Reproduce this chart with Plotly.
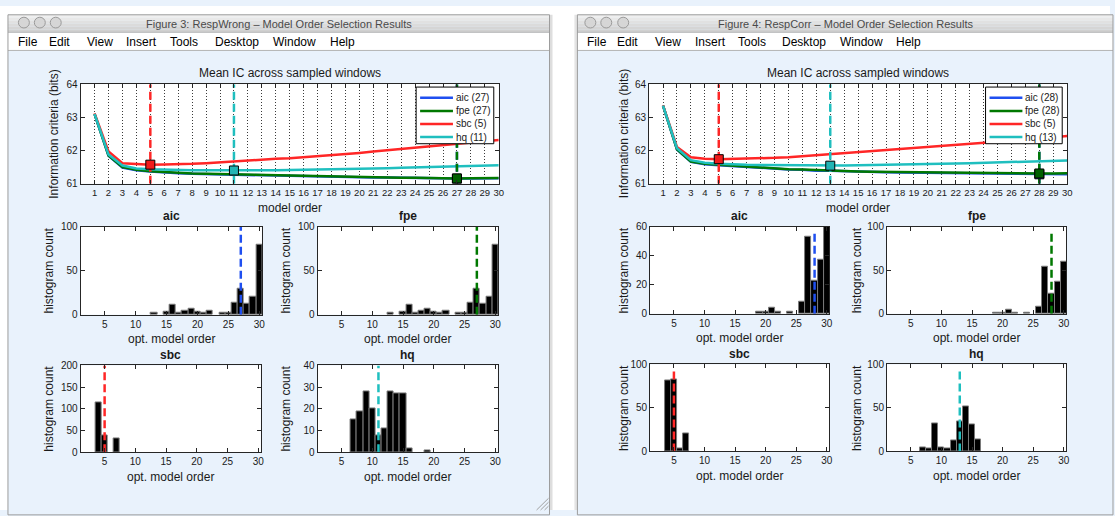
import plotly.graph_objects as go

W, H = 1115, 516
FONT = "Liberation Sans, Arial, Helvetica, sans-serif"
TXT = "#1a1a1a"
AX = "#262626"
BG = "#e9f2fc"

orders = list(range(1, 31))
criteria = ["aic", "fpe", "sbc", "hq"]
line_colors = {"aic": "#1f4ff0", "fpe": "#007800", "sbc": "#ff2626", "hq": "#1fbfbf"}
marker_fills = {"aic": "#1f4ff0", "fpe": "#006000", "sbc": "#f01c1c", "hq": "#22b4b4"}

# Mean information criterion (bits) per model order -- RespWrong
wrong_aic = [63.10, 61.84, 61.49, 61.41, 61.37, 61.335, 61.315, 61.30, 61.29, 61.28,
             61.275, 61.265, 61.255, 61.245, 61.235, 61.225, 61.215, 61.205, 61.198, 61.195,
             61.187, 61.185, 61.177, 61.175, 61.168, 61.165, 61.155, 61.16, 61.163, 61.166]
wrong_fpe = [63.10, 61.85, 61.50, 61.42, 61.38, 61.35, 61.33, 61.31, 61.30, 61.29,
             61.28, 61.27, 61.26, 61.25, 61.24, 61.23, 61.22, 61.21, 61.20, 61.20,
             61.19, 61.19, 61.18, 61.18, 61.17, 61.17, 61.16, 61.165, 61.168, 61.17]
wrong_sbc = [63.12, 61.97, 61.62, 61.59, 61.575, 61.58, 61.585, 61.60, 61.62, 61.65,
             61.68, 61.70, 61.72, 61.75, 61.77, 61.80, 61.82, 61.86, 61.89, 61.93,
             61.97, 62.01, 62.05, 62.09, 62.13, 62.16, 62.20, 62.24, 62.28, 62.32]
wrong_hq = [63.10, 61.88, 61.55, 61.46, 61.44, 61.425, 61.415, 61.41, 61.405, 61.402,
            61.40, 61.403, 61.407, 61.41, 61.415, 61.42, 61.43, 61.44, 61.445, 61.45,
            61.46, 61.47, 61.48, 61.49, 61.50, 61.51, 61.52, 61.53, 61.545, 61.56]

# Mean information criterion (bits) per model order -- RespCorr
corr_aic = [63.35, 62.03, 61.66, 61.59, 61.56, 61.53, 61.50, 61.48, 61.45, 61.43,
            61.42, 61.39, 61.39, 61.375, 61.365, 61.355, 61.35, 61.34, 61.335, 61.335,
            61.33, 61.32, 61.32, 61.315, 61.31, 61.30, 61.295, 61.285, 61.288, 61.29]
corr_fpe = [63.35, 62.04, 61.67, 61.60, 61.57, 61.54, 61.51, 61.49, 61.46, 61.44,
            61.43, 61.41, 61.40, 61.38, 61.37, 61.36, 61.355, 61.345, 61.34, 61.34,
            61.335, 61.335, 61.33, 61.33, 61.325, 61.32, 61.315, 61.31, 61.312, 61.315]
corr_sbc = [63.36, 62.11, 61.80, 61.75, 61.74, 61.745, 61.75, 61.76, 61.78, 61.80,
            61.83, 61.86, 61.89, 61.92, 61.95, 61.98, 62.01, 62.04, 62.07, 62.10,
            62.13, 62.16, 62.19, 62.22, 62.25, 62.29, 62.32, 62.36, 62.40, 62.44]
corr_hq = [63.35, 62.07, 61.71, 61.63, 61.60, 61.58, 61.57, 61.565, 61.56, 61.555,
           61.552, 61.548, 61.545, 61.55, 61.555, 61.56, 61.57, 61.575, 61.58, 61.59,
           61.60, 61.61, 61.62, 61.63, 61.64, 61.65, 61.66, 61.67, 61.685, 61.70]

# Histogram of the optimal order picked in each sampled window (orders 1..30)
wrong_hist_aic = [0] * 12 + [2, 0, 3, 11, 2, 5, 7, 3, 2, 4, 0, 2, 2, 14, 29, 12, 20, 80]
wrong_hist_fpe = [0] * 12 + [2, 0, 3, 11, 2, 5, 7, 3, 2, 4, 0, 2, 2, 14, 29, 12, 20, 80]
wrong_hist_sbc = [0, 0, 0, 115, 40, 0, 31] + [0] * 23
wrong_hist_hq = [0] * 6 + [15, 19, 28, 20, 8, 11, 28, 27, 27, 2, 0, 0, 1] + [0] * 11

corr_hist_aic = [0] * 18 + [1, 1, 4, 1, 0, 1, 0, 8, 53, 23, 37, 60]
corr_hist_fpe = [0] * 18 + [1, 1, 4, 1, 0, 1, 0, 8, 54, 23, 37, 60]
corr_hist_sbc = [0, 0, 0, 82, 83, 3, 21] + [0] * 23
corr_hist_hq = [0] * 6 + [4, 3, 32, 5, 3, 13, 35, 52, 31, 14] + [0] * 14

ic_yticks = [61, 62, 63, 64]
hist_xticks = [5, 10, 15, 20, 25, 30]
wrong_hist_yticks = {"aic": [0, 50, 100], "fpe": [0, 50, 100],
                     "sbc": [0, 50, 100, 150, 200], "hq": [0, 10, 20, 30, 40]}
corr_hist_yticks = {"aic": [0, 20, 40, 60], "fpe": [0, 50, 100],
                    "sbc": [0, 50, 100], "hq": [0, 50, 100]}
menu_items = ["File", "Edit", "View", "Insert", "Tools", "Desktop", "Window", "Help"]

windows = [
    dict(title="Figure 3: RespWrong \u2013 Model Order Selection Results",
         left=8, right=552,
         ic={"aic": wrong_aic, "fpe": wrong_fpe, "sbc": wrong_sbc, "hq": wrong_hq},
         hist={"aic": wrong_hist_aic, "fpe": wrong_hist_fpe, "sbc": wrong_hist_sbc, "hq": wrong_hist_hq},
         yticks=wrong_hist_yticks, vline_frac=1.0,
         top=(81, 501, 80, 182),
         panels={"aic": (81, 263, 226, 316), "fpe": (319, 500, 226, 316),
                 "sbc": (81, 262, 368, 457), "hq": (319, 500, 368, 457)},
         ylab_top=54, ylab_hist=(49, 287), legend=(418, 83, 496, 141),
         lights=(24, 40, 56), menu_x=[16.5, 47, 85, 125, 169, 214, 272, 329]),
    dict(title="Figure 4: RespCorr \u2013 Model Order Selection Results",
         left=580, right=1118,
         ic={"aic": corr_aic, "fpe": corr_fpe, "sbc": corr_sbc, "hq": corr_hq},
         hist={"aic": corr_hist_aic, "fpe": corr_hist_fpe, "sbc": corr_hist_sbc, "hq": corr_hist_hq},
         yticks=corr_hist_yticks, vline_frac=0.95,
         top=(652, 1072, 80, 182),
         panels={"aic": (653, 833, 226, 315), "fpe": (891, 1071, 226, 315),
                 "sbc": (653, 833, 367, 456), "hq": (891, 1071, 367, 456)},
         ylab_top=627, ylab_hist=(627, 861), legend=(990, 83, 1067, 141),
         lights=(593, 609, 626), menu_x=[587.5, 618, 656, 696, 739, 784, 842, 898]),
]


def fx(v):
    return v / W


def fy(v):
    return 1 - v / H


def ann(text, x, y, size=12, bold=False, angle=0, xanchor="center", color=TXT):
    return dict(text=f"<b>{text}</b>" if bold else text, x=fx(x), y=fy(y),
                xref="paper", yref="paper", showarrow=False, textangle=angle,
                font=dict(family=FONT, size=size, color=color),
                xanchor=xanchor, yanchor="middle")


def rect(x0, y0, x1, y1, fill, line=None, layer="below", width=1):
    return dict(type="rect", xref="paper", yref="paper", x0=fx(x0), x1=fx(x1),
                y0=fy(y1), y1=fy(y0), fillcolor=fill, layer=layer,
                line=dict(color=line or "rgba(0,0,0,0)", width=width if line else 0))


def seg(x0, y0, x1, y1, color, width=1, layer="below"):
    return dict(type="line", xref="paper", yref="paper", x0=fx(x0), x1=fx(x1),
                y0=fy(y0), y1=fy(y1), line=dict(color=color, width=width), layer=layer)


def axis(domain, rng, tickvals, anchor, size=10, **kw):
    a = dict(domain=domain, range=rng, tickmode="array", tickvals=tickvals,
             showline=True, linecolor=AX, linewidth=1, mirror="ticks",
             ticks="inside", ticklen=4, tickwidth=1, tickcolor=AX,
             tickfont=dict(family=FONT, size=size, color=TXT),
             showgrid=False, zeroline=False, fixedrange=True, anchor=anchor)
    a.update(kw)
    return a


fig = go.Figure()
layout_axes = {}
shapes = []
annotations = []
k = 0


def new_axes():
    global k
    k += 1
    s = "" if k == 1 else str(k)
    return f"x{s}", f"y{s}", f"xaxis{s}", f"yaxis{s}"


# Window chrome: white surroundings, title bars, menu bars
shapes.append(rect(0, 0, W, 9, "white"))
shapes.append(rect(0, 0, 8, H, "white"))
shapes.append(rect(552, 0, 580, H, "white"))
shapes.append(rect(552, 9, 555, H, "#dedede"))
shapes.append(rect(577, 9, 580, H, "#e4e4e4"))
grays = ["#efefef", "#e8e8e8", "#e1e1e1", "#dbdbdb", "#d5d5d5", "#d0d0d0"]

for win in windows:
    L, R = win["left"], win["right"]
    for i, g in enumerate(grays):
        shapes.append(rect(L, 9 + 3 * i, R, 12 + 3 * i, g))
    shapes.append(seg(L, 27, R, 27, "#a6a6a6"))
    shapes.append(rect(L, 27.5, R, 45, "white"))
    shapes.append(seg(L, 45.5, R, 45.5, "#b4b4b4"))
    shapes.append(rect(L, 9, R, H + 5, "rgba(0,0,0,0)", line="#9c9c9c"))
    for cx in win["lights"]:
        shapes.append(dict(type="circle", xref="paper", yref="paper",
                           x0=fx(cx - 5.5), x1=fx(cx + 5.5), y0=fy(22.5), y1=fy(11.5),
                           fillcolor="#d6d6d6", line=dict(color="#9a9a9a", width=1), layer="below"))
    annotations.append(ann(win["title"], (L + R) / 2, 18, size=11, color="#4a4a4a"))
    for name, mx in zip(menu_items, win["menu_x"]):
        annotations.append(ann(name, mx, 36.5, size=12, xanchor="left", color="#000000"))

    # ---- Mean IC panel ----
    l, r, t, b = win["top"]
    xr, yr, xk, yk = new_axes()
    layout_axes[xk] = axis([fx(l), fx(r)], [0, 30], orders, yr, size=9.5,
                           showgrid=True, gridcolor="#3a3a3a", gridwidth=1, griddash="1px,2px")
    layout_axes[yk] = axis([fy(b), fy(t)], [ic_yticks[0], ic_yticks[-1]], ic_yticks, xr)

    best = {}
    for c in criteria:
        vals = win["ic"][c]
        best[c] = orders[vals.index(min(vals))]
        fig.add_trace(go.Scatter(x=orders, y=vals, mode="lines", xaxis=xr, yaxis=yr,
                                 line=dict(color=line_colors[c], width=2.5), showlegend=False,
                                 hoverinfo="skip"))
    for c in criteria:
        fig.add_trace(go.Scatter(x=[best[c], best[c]], y=[ic_yticks[0], ic_yticks[-1]],
                                 mode="lines", xaxis=xr, yaxis=yr, showlegend=False,
                                 line=dict(color=line_colors[c], width=2.5, dash="8px,4px"),
                                 hoverinfo="skip"))
    for c in criteria:
        fig.add_trace(go.Scatter(x=[best[c]], y=[win["ic"][c][best[c] - 1]], mode="markers",
                                 xaxis=xr, yaxis=yr, showlegend=False, cliponaxis=False,
                                 marker=dict(symbol="square", size=9, color=marker_fills[c],
                                             line=dict(color="#000000", width=1)),
                                 hoverinfo="skip"))
    annotations.append(ann("Mean IC across sampled windows", (l + r) / 2, t - 11))
    annotations.append(ann("model order", (l + r) / 2, b + 25))
    annotations.append(ann("Information criteria (bits)", win["ylab_top"], (t + b) / 2, angle=-90))

    # legend box
    lx0, ly0, lx1, ly1 = win["legend"]
    shapes.append(rect(lx0, ly0, lx1, ly1, "white", line="#000000", layer="above"))
    for j, c in enumerate(criteria):
        yy = ly0 + 11 + j * 13.4
        shapes.append(seg(lx0 + 4, yy, lx0 + 37, yy, line_colors[c], width=2.5, layer="above"))
        annotations.append(ann(f"{c} ({best[c]})", lx0 + 38, yy, size=10, xanchor="left"))

    # ---- histogram panels ----
    for idx, c in enumerate(criteria):
        l, r, t, b = win["panels"][c]
        xr, yr, xk, yk = new_axes()
        ticks = win["yticks"][c]
        layout_axes[xk] = axis([fx(l), fx(r)], [1.1, 30.4], hist_xticks, yr)
        layout_axes[yk] = axis([fy(b), fy(t)], [0, ticks[-1]], ticks, xr)
        counts = win["hist"][c]
        xs = [o for o, n in zip(orders, counts) if n > 0]
        ys = [n for n in counts if n > 0]
        fig.add_trace(go.Bar(x=xs, y=ys, width=1, xaxis=xr, yaxis=yr, showlegend=False,
                             marker=dict(color="#000000", line=dict(color="#7a7a7a", width=1)),
                             hoverinfo="skip"))
        fig.add_trace(go.Scatter(x=[best[c], best[c]], y=[0, ticks[-1] * win["vline_frac"]],
                                 mode="lines", xaxis=xr, yaxis=yr, showlegend=False,
                                 line=dict(color=line_colors[c], width=2.5, dash="8px,4px"),
                                 hoverinfo="skip"))
        annotations.append(ann(c, (l + r) / 2, t - 11, size=12, bold=True))
        annotations.append(ann("opt. model order", (l + r) / 2, b + 25))
        annotations.append(ann("histogram count", win["ylab_hist"][idx % 2], (t + b) / 2, angle=-90))

# resize grip in the lower right corner of the first window
for d in (4, 8, 12):
    shapes.append(seg(551 - d, H, 551, H - d, "#a0a0a0"))

fig.update_layout(
    width=W, height=H, autosize=False,
    margin=dict(l=0, r=0, t=0, b=0, pad=0),
    paper_bgcolor=BG, plot_bgcolor="white",
    showlegend=False, bargap=0,
    shapes=shapes, annotations=annotations,
    font=dict(family=FONT, color=TXT),
    **layout_axes,
)

fig.write_html("out.html")
